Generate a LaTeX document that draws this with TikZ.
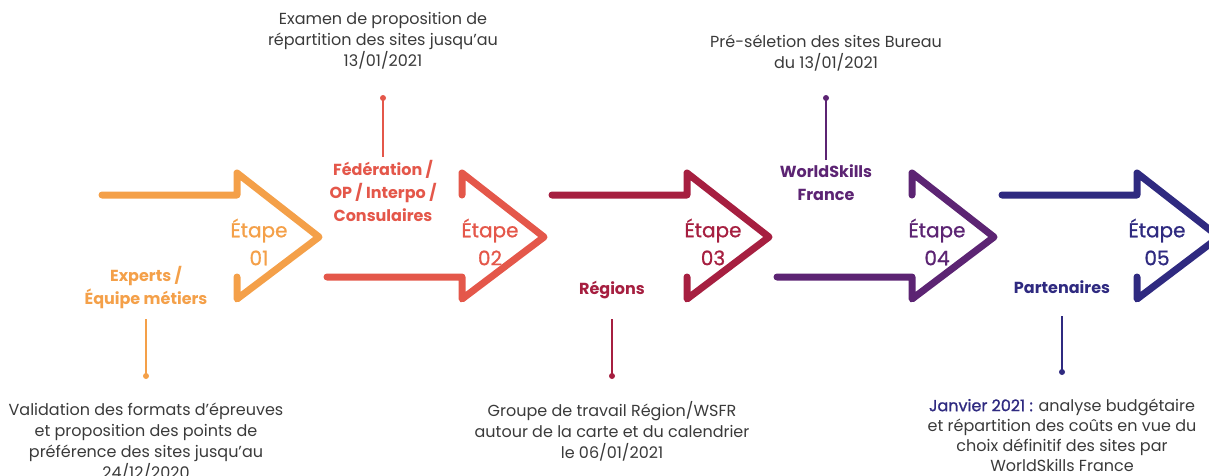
\documentclass[tikz,border=0pt]{standalone}
\usepackage{fontspec}
\setmainfont{Poppins}
\newfontfamily\medfont{Poppins}[FakeBold=1.2]
\newfontfamily\etfont{Poppins}[FakeBold=0.9]
\definecolor{cA}{HTML}{F4A049}
\definecolor{cB}{HTML}{E4574A}
\definecolor{cC}{HTML}{A61F40}
\definecolor{cD}{HTML}{5C2473}
\definecolor{cE}{HTML}{2F2A80}
\definecolor{txt}{HTML}{3A3A3A}
\begin{document}
\begin{tikzpicture}[x=1pt,y=-1pt,
  arr/.style={line width=7pt,line join=round,line cap=round},
  etape/.style={font=\etfont\fontsize{20}{28}\selectfont,align=center,inner sep=0pt},
  lab/.style={font=\bfseries\fontsize{16}{23}\selectfont,align=center,inner sep=0pt},
  desc/.style={font=\fontsize{16}{21}\selectfont,text=txt,align=center,inner sep=0pt},
  dotn/.style={circle,fill,inner sep=0pt,minimum size=6pt},
  conn/.style={line width=2pt}]
\useasboundingbox (0,0) rectangle (1209,475);
% arrows
\draw[arr,cA] (102,195) -- (237,195) -- (237,173) -- (319,237) -- (237,299) -- (237,277);
\draw[arr,cB] (327,277) -- (462,277) -- (462,299) -- (544,237) -- (462,173) -- (462,195);
\draw[arr,cC] (552,195) -- (687,195) -- (687,173) -- (769,237) -- (687,299) -- (687,277);
\draw[arr,cD] (777,277) -- (912,277) -- (912,299) -- (994,237) -- (912,173) -- (912,195);
\draw[arr,cE] (1002,195) -- (1137,195) -- (1137,173) -- (1219,237) -- (1137,299) -- (1137,277);
% step labels
\node[etape,text=cA] (e1) at (259,242) {Étape\\01};
\node[etape,text=cB] (e2) at (490,242) {Étape\\02};
\node[etape,text=cC] (e3) at (713,242) {Étape\\03};
\node[etape,text=cD] (e4) at (937,242) {Étape\\04};
\node[etape,text=cE] (e5) at (1157,242) {Étape\\05};
% actors
\node[lab,text=cA] (l1) at (146,288) {Experts /\\Équipe métiers};
\node[lab,text=cB] (l2) at (383,191) {Fédération /\\OP / Interpo /\\Consulaires};
\node[lab,text=cC] (l3) at (612,290) {Régions};
\node[lab,text=cD] (l4) at (826,183) {WorldSkills\\France};
\node[lab,text=cE] (l5) at (1062,287) {Partenaires};
% dots
\node[dotn,cA] (d1) at (146,376) {};
\node[dotn,cB] (d2) at (383,98) {};
\node[dotn,cC] (d3) at (612,376) {};
\node[dotn,cD] (d4) at (826,98) {};
\node[dotn,cE] (d5) at (1062,372) {};
% connectors
\draw[conn,cA,shorten >=10pt] (d1.center) -- (l1.south);
\draw[conn,cB,shorten >=3pt] (d2.center) -- (l2.north);
\draw[conn,cC,shorten >=20pt] (d3.center) -- (l3.south);
\draw[conn,cD,shorten >=5pt] (d4.center) -- (l4.north);
\draw[conn,cE,shorten >=22pt] (d5.center) -- (l5.south);
% descriptions
\node[desc] (t1) at (146,442) {Validation des formats d’épreuves\\et proposition des points de\\préférence des sites jusqu’au\\24/12/2020};
\node[desc] (t2) at (383,41) {Examen de proposition de\\répartition des sites jusqu’au\\13/01/2021};
\node[desc] (t3) at (612,431) {Groupe de travail Région/WSFR\\autour de la carte et du calendrier\\le 06/01/2021};
\node[desc] (t4) at (826,53) {Pré-séletion des sites Bureau\\du 13/01/2021};
\node[desc,font=\fontsize{16}{20}\selectfont] (t5) at (1062,435) {{\color{cE}\medfont Janvier 2021 :} analyse budgétaire\\et répartition des coûts en vue du\\choix définitif des sites par\\WorldSkills France};
\end{tikzpicture}
\end{document}
